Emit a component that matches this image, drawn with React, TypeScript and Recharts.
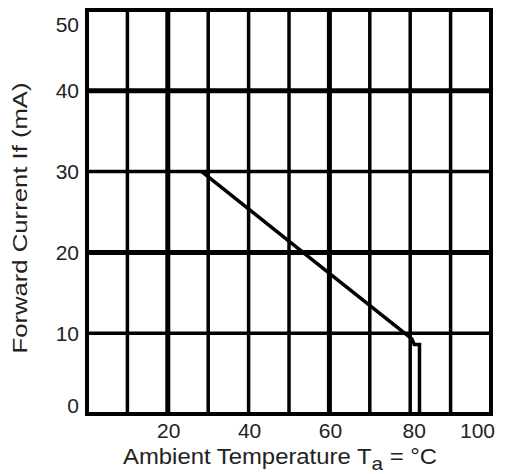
import React from "react"
import { LineChart, Line, XAxis, YAxis, ReferenceLine, Label } from "recharts"

// derating curve
const tempC = [28.4, 60, 80.4, 81, 82.3, 82.3]
const currentMA = [30, 17.4, 9.3, 8.6, 8.6, 0]

const xTicks = [20, 40, 60, 80, 100]
const yTicks = [0, 10, 20, 30, 40, 50]
const xGrid = [10, 20, 30, 40, 50, 60, 70, 80, 90]
const yGrid = [10, 20, 30, 40]
const xGridBold = [20, 60]
const yGridBold = [20, 40]

const data = tempC.map((t, i) => ({ t, i: currentMA[i] }))

const font = "'Liberation Sans', Arial, sans-serif"
const ink = "#000"
const textInk = "#222"

const XTick = (props: any) => {
  const { x, y, payload } = props
  const last = payload.value === 100
  const nudge = last ? 4 : payload.value === 80 ? 4 : 1
  return (
    <text
      x={x + nudge}
      y={y}
      dy="0.71em"
      textAnchor={last ? "end" : "middle"}
      fontSize={21}
      fill={textInk}
      fontFamily={font}
    >
      {payload.value}
    </text>
  )
}

const YTick = (props: any) => {
  const { x, y, payload } = props
  const nudge = payload.value === 50 ? 15 : payload.value === 0 ? -8 : 0
  return (
    <text x={x} y={y + nudge} dy="0.355em" textAnchor="end" fontSize={21} fill={textInk} fontFamily={font}>
      {payload.value}
    </text>
  )
}

const XTitle = (props: any) => {
  const { viewBox } = props
  const x = viewBox.x + 36
  const y = viewBox.y + 49.5
  return (
    <text x={x} y={y} fontSize={22} fill={textInk} fontFamily={font} textLength={314} lengthAdjust="spacingAndGlyphs">
      Ambient Temperature T
      <tspan dy={6} fontSize={19}>a</tspan>
      <tspan dy={-6}> = °C</tspan>
    </text>
  )
}

const YTitle = (props: any) => {
  const { viewBox } = props
  const x = 19
  const y = viewBox.y + viewBox.height / 2 + 6
  return (
    <text
      x={x}
      y={y}
      transform={`rotate(-90, ${x}, ${y})`}
      textAnchor="middle"
      fontSize={21}
      fill={textInk}
      fontFamily={font}
      textLength={271}
      lengthAdjust="spacingAndGlyphs"
    >
      Forward Current If (mA)
    </text>
  )
}

export default function App() {
  return (
    <div style={{ width: 497, height: 466, background: "#fff" }}>
      {/* the chart fills the window down to its bottom edge; keep scrollbars away */}
      <style>{"html, body { overflow: hidden; }"}</style>
      <LineChart width={497} height={466} data={data} margin={{ top: 2, right: 14, left: 0, bottom: 0 }}>
        <XAxis
          type="number"
          dataKey="t"
          domain={[0, 100]}
          ticks={xTicks}
          axisLine={false}
          tickLine={false}
          tickSize={0}
          tickMargin={9}
          height={60}
          tick={<XTick />}
          interval={0}
        >
          <Label content={<XTitle />} />
        </XAxis>
        <YAxis
          type="number"
          domain={[0, 50]}
          ticks={yTicks}
          axisLine={false}
          tickLine={false}
          tickSize={0}
          tickMargin={8}
          width={79}
          tick={<YTick />}
          interval={0}
        >
          <Label content={<YTitle />} />
        </YAxis>

        {xGrid.map((v) => (
          <ReferenceLine key={`x${v}`} x={v} stroke={ink} strokeWidth={xGridBold.includes(v) ? 5 : 3.5} />
        ))}
        {yGrid.map((v) => (
          <ReferenceLine key={`y${v}`} y={v} stroke={ink} strokeWidth={yGridBold.includes(v) ? 5 : 3.5} />
        ))}

        <ReferenceLine x={0} stroke={ink} strokeWidth={4} strokeLinecap="square" />
        <ReferenceLine x={100} stroke={ink} strokeWidth={4} strokeLinecap="square" />
        <ReferenceLine y={0} stroke={ink} strokeWidth={4} strokeLinecap="square" />
        <ReferenceLine y={50} stroke={ink} strokeWidth={4} strokeLinecap="square" />

        <Line
          type="linear"
          dataKey="i"
          stroke={ink}
          strokeWidth={3.5}
          dot={false}
          activeDot={false}
          isAnimationActive={false}
        />
      </LineChart>
    </div>
  )
}
